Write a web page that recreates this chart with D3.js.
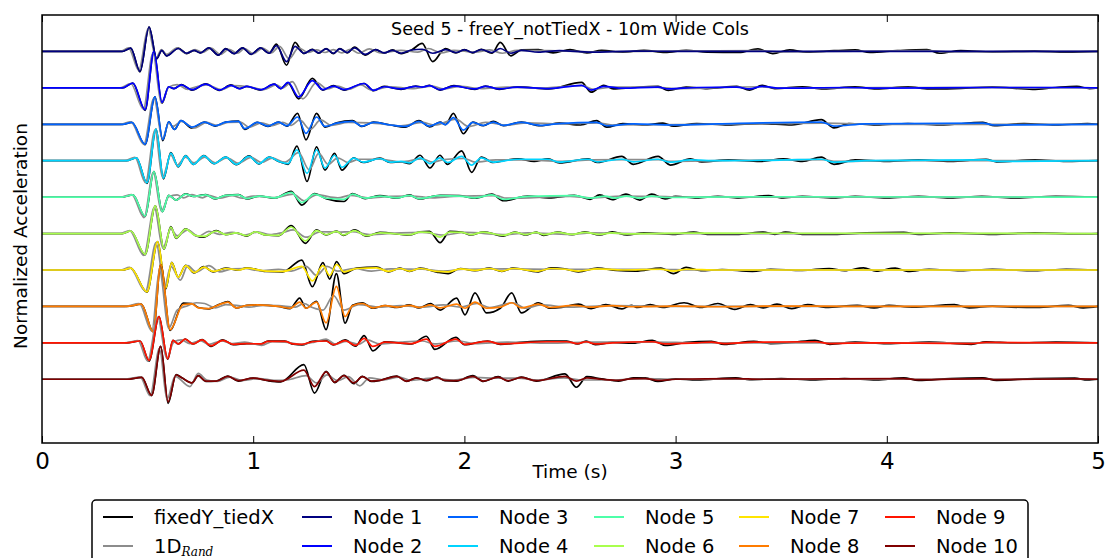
<!DOCTYPE html>
<html lang="en">
<head>
    <meta charset="UTF-8">
    <title>Seed 5 - freeY_notTiedX - 10m Wide Cols</title>
    <script src="https://d3js.org/d3.v7.min.js"></script>
    <style>
        body { margin: 0; background: #fff; }
        svg { display: block; font-family: "DejaVu Sans", sans-serif; }
    </style>
</head>
<body>
<svg id="chart" width="1105" height="558"></svg>
<script>
// Each trace: flat list [t, a, t, a, ...], t in seconds, a in units of trace spacing
const timeTicks = [0, 1, 2, 3, 4, 5];
const nodeNames = ['Node 1','Node 2','Node 3','Node 4','Node 5','Node 6','Node 7','Node 8','Node 9','Node 10'];
const nodeColors = ['#000080','#0000ff','#0063ff','#00d4ff','#4dffa9','#a9ff4d','#ffe500','#ff7c00','#ff1400','#800000'];

// node response (colored)
const node1 = [0,0, .38,0, .42,.09, .464,-.55, .507,.67, .543,-.2, .567,.03, .59,-.12, .645,.08, .685,-.05, .72,.03, .75,-.04, .79,.1, .835,-.1, .87,.07, .91,-.06, .95,.1, .99,-.08, 1.035,.1, 1.075,-.05, 1.11,.16, 1.158,-.28, 1.198,.14, 1.24,-.05, 1.28,.05, 1.31,-.04, 1.345,.07, 1.38,-.05, 1.41,.07, 1.445,-.03, 1.48,.1, 1.53,-.08, 1.58,.05, 1.62,-.04, 1.66,.03, 1.7,-.05, 1.75,.04, 1.8,.06, 1.85,-.05, 1.91,.05, 1.96,-.03, 2,.04, 2.04,-.03, 2.08,.05, 2.13,-.03, 2.17,.08, 2.22,-.05, 2.27,.03, 2.35,-.02, 2.45,.02, 2.6,-.02, 2.8,.01, 3,0, 5,0];
const node2 = [0,0, .38,0, .43,.13, .488,-.6, .53,1.0, .568,-.4, .6,.03, .625,-.02, .66,.08, .71,-.05, .775,.1, .84,-.06, .895,.07, .935,-.02, .97,.04, 1.035,-.05, 1.1,.1, 1.13,-.02, 1.165,.15, 1.215,-.25, 1.28,.2, 1.33,-.05, 1.38,.05, 1.43,-.05, 1.525,.12, 1.57,-.07, 1.62,.03, 1.7,-.03, 1.77,.04, 1.8,.02, 1.835,.06, 1.885,-.05, 1.95,.05, 2.05,-.03, 2.1,.04, 2.165,-.03, 2.25,.02, 2.4,-.02, 2.555,.07, 2.6,-.06, 2.66,.04, 2.75,-.01, 2.917,.02, 2.965,-.03, 3.1,.01, 3.29,.02, 3.35,-.03, 3.41,.04, 3.5,-.01, 3.8,.01, 4,-.01, 4.4,.01, 4.9,.01, 5,0];
const node3 = [0,0, .38,0, .425,.05, .488,-.55, .535,.75, .572,-.42, .6,.07, .627,-.14, .658,.1, .71,-.08, .77,.06, .82,-.04, .87,.06, .93,.08, .96,-.12, 1.02,.05, 1.07,-.05, 1.12,.06, 1.16,-.04, 1.21,.2, 1.25,-.25, 1.3,.2, 1.34,-.06, 1.395,.03, 1.47,.08, 1.515,-.05, 1.57,.05, 1.65,-.02, 1.72,-.06, 1.785,.08, 1.835,-.05, 1.885,.05, 1.91,-.01, 1.948,.18, 1.995,-.16, 2.04,.05, 2.09,-.03, 2.137,.06, 2.185,-.03, 2.27,.05, 2.36,-.03, 2.45,.02, 2.626,.05, 2.674,-.04, 2.8,.01, 2.99,-.02, 3.2,.01, 3.69,.06, 3.75,-.05, 3.9,.01, 4.455,.03, 4.51,-.02, 5,0];
const node4 = [0,0, .4,0, .447,.08, .497,-.61, .54,.87, .575,-.48, .61,.21, .645,-.16, .68,.13, .717,-.1, .766,.13, .815,-.08, .87,.1, .92,-.1, .98,.12, 1.027,-.08, 1.076,.1, 1.125,-.03, 1.165,-.08, 1.207,.3, 1.255,-.35, 1.3,.3, 1.34,-.2, 1.385,.15, 1.42,-.18, 1.476,.07, 1.52,-.04, 1.6,.06, 1.648,-.04, 1.7,-.02, 1.74,-.06, 1.79,.08, 1.837,-.08, 1.884,.08, 1.92,-.05, 1.987,.12, 2.034,-.12, 2.08,.08, 2.136,-.04, 2.255,.04, 2.396,.04, 2.45,-.04, 2.586,.04, 2.63,-.03, 2.745,.04, 2.8,-.03, 2.917,.04, 2.975,-.04, 3.07,.02, 3.2,0, 3.51,.02, 3.69,.04, 3.75,-.04, 3.9,0, 4.47,.02, 4.52,-.02, 5,0];
const node5 = [0,0, .38,0, .43,.06, .488,-.52, .53,.7, .57,-.4, .6,.05, .635,-.08, .68,.08, .717,.02, .745,.04, .775,.06, .82,-.04, .87,.05, .93,.06, .97,-.04, 1.03,.03, 1.1,-.02, 1.18,.13, 1.23,-.15, 1.29,.08, 1.345,-.03, 1.43,-.06, 1.47,.08, 1.53,-.03, 1.6,.03, 1.68,-.02, 1.74,.05, 1.785,-.04, 1.885,.04, 1.975,.03, 2.05,-.02, 2.13,.06, 2.185,-.06, 2.3,.02, 2.52,.04, 2.595,-.03, 2.666,.03, 2.713,-.03, 2.768,.03, 2.83,-.03, 2.887,.03, 2.95,-.01, 3.1,0, 3.44,.01, 5,0];
const node6 = [0,0, .38,0, .42,.07, .488,-.57, .537,.76, .578,-.42, .61,.18, .635,-.12, .68,.12, .725,-.05, .766,-.08, .825,.07, .87,-.03, .92,.02, .97,-.06, 1.01,.05, 1.06,-.04, 1.12,-.05, 1.18,.18, 1.247,-.2, 1.3,.08, 1.345,-.03, 1.394,.06, 1.427,-.04, 1.48,.08, 1.537,-.06, 1.6,.02, 1.74,-.03, 1.79,.04, 1.835,.03, 1.885,-.1, 1.93,.04, 1.987,.03, 2.03,-.03, 2.09,.04, 2.185,-.05, 2.24,.03, 2.29,-.03, 2.34,.03, 2.375,-.03, 2.44,.03, 2.51,-.02, 2.57,.03, 2.64,-.02, 2.7,.02, 2.77,-.01, 2.9,0, 3.085,.01, 5,0];
const node7 = [0,0, .38,0, .42,.05, .497,-.6, .548,.78, .586,-.5, .614,.2, .645,-.2, .68,.12, .72,-.07, .766,.08, .81,-.04, .87,.04, .93,0, .97,.05, 1.06,-.03, 1.14,-.04, 1.23,.1, 1.28,-.3, 1.33,.12, 1.362,-.15, 1.395,.15, 1.43,-.05, 1.49,.04, 1.585,.06, 1.64,-.04, 1.695,.04, 1.74,-.03, 1.79,.04, 1.87,-.04, 1.923,-.05, 1.98,.03, 2.05,-.01, 2.12,.04, 2.177,-.03, 2.23,.04, 2.35,-.03, 2.41,.04, 2.475,.02, 2.54,-.03, 2.63,.03, 2.75,0, 2.93,.02, 2.99,-.03, 3.05,.02, 3.2,0, 5,0];
const node8 = [0,0, .4,0, .47,.06, .527,-.7, .562,1.15, .607,-.64, .668,.05, .71,.07, .74,-.04, .79,-.06, .84,.05, .88,.12, .92,-.04, .97,.03, 1.02,.04, 1.07,.03, 1.12,0, 1.175,-.05, 1.22,.12, 1.25,-.05, 1.3,.12, 1.345,-.45, 1.394,.55, 1.435,-.28, 1.47,.02, 1.517,.08, 1.567,-.04, 1.625,.02, 1.68,-.02, 1.74,.03, 1.785,-.03, 1.84,.04, 1.885,-.04, 1.963,.06, 2.003,-.05, 2.05,.12, 2.105,-.05, 2.17,-.02, 2.224,.1, 2.27,-.04, 2.35,.06, 2.406,-.03, 2.52,.03, 2.6,-.02, 2.7,.02, 2.8,-.01, 3,.01, 3.2,-.01, 3.5,.01, 3.8,0, 5,0];
const node9 = [0,0, .4,0, .464,.05, .507,-.48, .554,.72, .595,-.44, .62,.07, .645,-.03, .678,.1, .715,-.03, .758,.08, .8,-.08, .856,.07, .905,-.04, .97,-.02, 1.036,-.03, 1.07,.04, 1.15,.04, 1.19,-.03, 1.23,-.04, 1.28,.03, 1.345,.05, 1.38,-.05, 1.435,.06, 1.485,-.07, 1.525,.12, 1.567,-.1, 1.624,.02, 1.75,-.02, 1.82,.1, 1.86,-.1, 1.96,.1, 2,-.04, 2.11,.04, 2.17,-.03, 2.39,.03, 2.485,.03, 2.536,-.02, 2.576,.03, 2.62,-.03, 2.7,0, 2.89,.03, 2.95,-.03, 3.1,0, 3.17,.02, 3.23,-.02, 3.37,.02, 3.66,.03, 3.73,-.02, 3.9,0, 4.4,-.02, 4.47,.01, 5,0];
const node10 = [0,0, .4,0, .472,.05, .519,-.44, .562,.9, .597,-.62, .635,.12, .66,.05, .71,-.1, .74,.1, .775,-.05, .825,-.05, .88,.08, .93,-.04, 1,.03, 1.07,-.03, 1.13,-.06, 1.24,.25, 1.29,-.2, 1.345,.2, 1.386,-.08, 1.43,.1, 1.477,-.1, 1.517,.07, 1.56,-.05, 1.6,-.03, 1.68,.08, 1.726,-.05, 1.773,.03, 1.82,-.03, 1.87,.05, 1.908,-.03, 1.963,-.04, 2.04,.08, 2.09,-.05, 2.16,.06, 2.207,-.04, 2.27,.05, 2.34,-.04, 2.476,.08, 2.53,-.05, 2.58,.04, 2.65,0, 2.73,-.03, 2.8,.02, 2.857,.02, 2.916,-.03, 3,0, 3.285,.02, 3.4,0, 4.08,.02, 4.15,-.01, 4.455,.02, 4.52,-.01, 4.89,.01, 5,0];

// fixedY_tiedX (black)
const fixed1 = [0,0, .38,0, .42,.09, .464,-.56, .507,.67, .543,-.2, .567,.03, .59,-.12, .645,.09, .685,-.06, .72,.03, .75,-.04, .79,.1, .835,-.1, .87,.08, .91,-.06, .95,.1, .99,-.08, 1.035,.1, 1.075,-.05, 1.11,.2, 1.158,-.38, 1.198,.25, 1.24,-.06, 1.28,.06, 1.31,-.05, 1.345,.08, 1.38,-.06, 1.41,.08, 1.445,-.04, 1.48,.12, 1.53,-.1, 1.58,.05, 1.62,-.05, 1.66,.04, 1.7,-.06, 1.75,.04, 1.8,.22, 1.85,-.28, 1.91,.08, 1.96,-.04, 2,.05, 2.04,-.04, 2.08,.06, 2.13,-.05, 2.17,.25, 2.22,-.12, 2.27,.04, 2.35,.05, 2.42,-.04, 2.5,.05, 2.58,-.04, 2.65,.03, 2.75,-.02, 2.85,.03, 2.95,-.03, 3.05,.03, 3.15,-.02, 3.3,-.03, 3.39,.07, 3.46,-.06, 3.54,.04, 3.62,-.02, 3.75,.02, 3.85,.04, 3.92,-.03, 4.05,.02, 4.19,.05, 4.25,-.05, 4.35,.02, 4.5,-.01, 4.7,.01, 4.85,-.02, 5,0];
const fixed2 = [0,0, .38,0, .43,.13, .488,-.62, .53,1.0, .568,-.42, .6,.03, .625,-.02, .66,.09, .71,-.06, .775,.11, .84,-.07, .895,.08, .935,-.02, .97,.04, 1.035,-.06, 1.1,.1, 1.13,-.02, 1.165,.13, 1.215,-.3, 1.28,.26, 1.33,-.06, 1.38,.06, 1.43,-.06, 1.525,.12, 1.57,-.08, 1.62,.04, 1.7,-.04, 1.77,.05, 1.8,.02, 1.835,.07, 1.885,-.06, 1.95,.06, 2.05,-.04, 2.1,.05, 2.165,-.04, 2.25,.03, 2.4,-.03, 2.555,.15, 2.6,-.12, 2.66,.07, 2.705,-.03, 2.8,.01, 2.917,.04, 2.965,-.07, 3.05,.02, 3.15,-.02, 3.29,.04, 3.35,-.06, 3.41,.07, 3.47,-.02, 3.6,.03, 3.7,-.03, 3.85,.03, 3.95,-.03, 4.1,.03, 4.2,-.03, 4.32,-.02, 4.5,.02, 4.69,-.04, 4.8,.01, 4.9,.04, 4.96,-.02, 5,0];
const fixed3 = [0,0, .38,0, .425,.05, .488,-.56, .535,.75, .572,-.45, .6,.07, .627,-.14, .658,.1, .71,-.1, .77,.06, .82,-.05, .87,.06, .93,.09, .96,-.14, 1.02,.05, 1.07,-.06, 1.12,.06, 1.16,-.05, 1.21,.3, 1.25,-.43, 1.3,.3, 1.34,-.08, 1.395,.04, 1.47,.1, 1.515,-.06, 1.57,.06, 1.65,-.02, 1.72,-.08, 1.785,.1, 1.835,-.07, 1.885,.06, 1.91,-.01, 1.948,.3, 1.995,-.26, 2.04,.06, 2.09,-.04, 2.137,.08, 2.185,-.04, 2.27,.06, 2.36,-.04, 2.45,.03, 2.55,-.02, 2.626,.1, 2.674,-.08, 2.75,.02, 2.85,-.02, 2.94,.03, 2.99,-.05, 3.1,.02, 3.25,-.02, 3.4,.02, 3.55,-.02, 3.69,.13, 3.75,-.1, 3.82,.02, 3.95,-.02, 4.1,.02, 4.25,-.02, 4.455,.05, 4.51,-.04, 4.65,.02, 4.8,-.02, 4.95,.02, 5,0];
const fixed4 = [0,0, .4,0, .447,.08, .497,-.62, .54,.87, .575,-.5, .61,.22, .645,-.17, .68,.14, .717,-.1, .766,.14, .815,-.08, .87,.1, .92,-.11, .98,.13, 1.027,-.09, 1.076,.1, 1.125,-.03, 1.165,-.1, 1.207,.4, 1.255,-.57, 1.3,.38, 1.34,-.26, 1.385,.2, 1.42,-.26, 1.476,.08, 1.52,-.05, 1.6,.07, 1.648,-.05, 1.7,-.03, 1.74,-.08, 1.79,.15, 1.837,-.2, 1.884,.15, 1.92,-.1, 1.987,.27, 2.034,-.32, 2.08,.1, 2.136,-.05, 2.2,.02, 2.255,.05, 2.33,-.02, 2.396,.05, 2.45,-.06, 2.586,.05, 2.63,-.05, 2.745,.12, 2.8,-.1, 2.917,.12, 2.975,-.12, 3.07,.05, 3.124,-.03, 3.25,.02, 3.4,-.02, 3.51,.05, 3.6,-.02, 3.69,.1, 3.75,-.1, 3.85,.02, 4,-.02, 4.15,.02, 4.3,-.02, 4.47,.04, 4.52,-.03, 4.7,.02, 4.85,-.02, 5,0];
const fixed5 = [0,0, .38,0, .43,.06, .488,-.53, .53,.7, .57,-.4, .6,.05, .635,-.08, .68,.09, .717,.02, .745,.04, .775,.07, .82,-.05, .87,.05, .93,.07, .97,-.05, 1.03,.03, 1.1,-.03, 1.18,.16, 1.23,-.22, 1.29,.1, 1.345,-.04, 1.43,-.12, 1.47,.1, 1.53,-.04, 1.6,.04, 1.68,-.03, 1.74,.06, 1.785,-.05, 1.885,.05, 1.975,.04, 2.05,-.03, 2.13,.08, 2.185,-.1, 2.3,.03, 2.4,-.02, 2.52,.05, 2.595,-.06, 2.64,.06, 2.7,-.07, 2.765,.08, 2.83,-.08, 2.887,.08, 2.95,-.05, 3,.02, 3.1,-.02, 3.2,.02, 3.3,-.02, 3.44,.04, 3.5,-.02, 3.6,.02, 3.75,-.02, 3.85,.02, 4,-.02, 4.15,.02, 4.3,-.02, 4.45,.02, 4.6,-.02, 4.8,.02, 5,0];
const fixed6 = [0,0, .38,0, .42,.07, .488,-.58, .537,.76, .578,-.43, .61,.19, .635,-.13, .68,.13, .725,-.05, .766,-.1, .825,.08, .87,-.03, .92,.02, .97,-.07, 1.01,.05, 1.06,-.04, 1.12,-.06, 1.18,.22, 1.247,-.27, 1.3,.1, 1.345,-.04, 1.394,.07, 1.427,-.05, 1.48,.1, 1.537,-.07, 1.6,.03, 1.74,-.04, 1.79,.05, 1.835,.06, 1.885,-.25, 1.93,.06, 1.987,.04, 2.03,-.04, 2.09,.05, 2.185,-.07, 2.24,.04, 2.29,-.04, 2.34,.04, 2.375,-.05, 2.44,.04, 2.51,-.03, 2.57,.05, 2.64,-.04, 2.7,.05, 2.77,-.04, 2.85,.02, 3,-.02, 3.085,.04, 3.15,-.02, 3.3,-.02, 3.414,.04, 3.47,-.02, 3.52,.04, 3.6,-.02, 3.75,-.02, 3.9,.02, 4.08,.03, 4.15,-.02, 4.3,.02, 4.5,-.02, 4.7,.02, 4.9,-.01, 5,0];
const fixed7 = [0,0, .38,0, .42,.05, .497,-.61, .548,.78, .586,-.52, .614,.21, .645,-.2, .68,.13, .72,-.08, .766,.09, .81,-.05, .87,.05, .93,0, .97,.06, 1.06,-.04, 1.14,-.05, 1.23,.27, 1.28,-.46, 1.33,.2, 1.362,-.25, 1.395,.23, 1.43,-.1, 1.49,.05, 1.585,.08, 1.64,-.05, 1.695,.05, 1.74,-.04, 1.79,.05, 1.87,-.06, 1.923,-.1, 1.98,.04, 2.05,-.02, 2.12,.05, 2.177,-.04, 2.23,.05, 2.35,-.05, 2.41,.06, 2.475,.03, 2.54,-.05, 2.63,.05, 2.72,-.01, 2.81,-.03, 2.93,.05, 2.99,-.1, 3.05,.07, 3.12,-.02, 3.22,.01, 3.364,-.04, 3.45,.02, 3.6,-.01, 3.727,.04, 3.8,-.02, 3.89,.06, 3.95,-.03, 4.04,.05, 4.1,-.04, 4.2,.02, 4.35,-.02, 4.5,.02, 4.7,-.02, 4.85,.02, 5,0];
const fixed8 = [0,0, .4,0, .47,.06, .527,-.7, .562,1.15, .607,-.66, .668,.09, .71,.08, .74,-.03, .79,-.07, .84,.06, .88,.13, .92,-.04, .97,.03, 1.02,.04, 1.07,.03, 1.12,0, 1.175,-.06, 1.22,.23, 1.25,-.05, 1.3,.14, 1.345,-.64, 1.394,.9, 1.435,-.46, 1.47,.03, 1.517,.1, 1.567,-.05, 1.625,.02, 1.68,-.03, 1.74,.04, 1.785,-.04, 1.84,.08, 1.885,-.1, 1.963,.23, 2.003,-.23, 2.05,.37, 2.105,-.18, 2.17,-.05, 2.224,.37, 2.27,-.18, 2.35,.1, 2.406,-.05, 2.46,-.03, 2.54,.06, 2.6,-.06, 2.67,.05, 2.746,-.07, 2.79,.03, 2.82,-.03, 2.88,.05, 2.94,-.03, 3.04,.1, 3.12,-.03, 3.2,.08, 3.28,-.08, 3.355,.05, 3.415,-.04, 3.48,.06, 3.55,-.06, 3.625,.05, 3.71,-.03, 3.86,.03, 3.94,-.04, 4.01,.03, 4.12,-.02, 4.32,.05, 4.39,-.04, 4.5,.01, 4.59,-.02, 4.71,-.03, 4.86,.03, 4.93,-.04, 5,0];
const fixed9 = [0,0, .4,0, .464,.05, .507,-.5, .554,.72, .595,-.45, .62,.07, .645,-.03, .678,.1, .715,-.03, .758,.09, .8,-.1, .856,.08, .905,-.05, .97,-.02, 1.036,-.03, 1.07,.05, 1.15,.05, 1.19,-.04, 1.23,-.06, 1.28,.04, 1.345,.06, 1.38,-.06, 1.435,.08, 1.485,-.09, 1.525,.2, 1.567,-.22, 1.624,.03, 1.75,-.03, 1.82,.18, 1.86,-.18, 1.96,.15, 2,-.05, 2.11,.05, 2.17,-.04, 2.28,.02, 2.39,.05, 2.485,.05, 2.536,-.03, 2.576,.05, 2.62,-.05, 2.7,.01, 2.8,-.01, 2.89,.07, 2.95,-.07, 3.05,.01, 3.17,.04, 3.23,-.04, 3.37,.04, 3.45,-.02, 3.55,.01, 3.66,.07, 3.73,-.04, 3.85,.02, 4,-.02, 4.2,.02, 4.4,-.04, 4.47,.03, 4.6,-.01, 4.8,.02, 5,0];
const fixed10 = [0,0, .4,0, .472,.05, .519,-.45, .562,.9, .597,-.66, .635,.13, .66,.05, .71,-.1, .74,.1, .775,-.06, .825,-.05, .88,.09, .93,-.05, 1,.03, 1.07,-.04, 1.13,-.07, 1.24,.4, 1.29,-.38, 1.345,.22, 1.386,-.09, 1.43,.11, 1.477,-.12, 1.517,.08, 1.56,-.06, 1.6,-.03, 1.68,.09, 1.726,-.06, 1.773,.04, 1.82,-.04, 1.87,.06, 1.908,-.04, 1.963,-.05, 2.04,.1, 2.09,-.06, 2.16,.07, 2.207,-.05, 2.27,.06, 2.34,-.05, 2.476,.15, 2.53,-.22, 2.58,.07, 2.65,.01, 2.73,-.05, 2.8,.04, 2.857,.04, 2.916,-.06, 3,.01, 3.1,-.02, 3.285,.04, 3.35,-.01, 3.5,.02, 3.65,-.02, 3.8,.02, 3.95,-.02, 4.08,.04, 4.15,-.03, 4.3,.02, 4.455,.04, 4.52,-.03, 4.7,.02, 4.89,.03, 4.95,-.02, 5,0];

// 1D_Rand (gray)
const rand1 = [0,0, .37,0, .41,.1, .458,-.52, .502,.62, .54,-.18, .565,.05, .59,-.08, .64,.1, .68,-.05, .725,.05, .76,-.03, .8,.09, .845,-.08, .885,.06, .925,-.05, .96,.08, 1,-.06, 1.045,.09, 1.085,-.04, 1.125,.14, 1.17,-.2, 1.215,.1, 1.26,-.03, 1.3,.04, 1.34,-.03, 1.38,.05, 1.42,-.04, 1.46,.06, 1.5,-.05, 1.55,.07, 1.6,-.04, 1.7,.03, 1.78,-.02, 1.83,.08, 1.89,-.04, 1.95,.03, 2.05,-.02, 2.12,.04, 2.18,-.05, 2.25,.03, 2.4,.02, 2.6,-.01, 3,.01, 3.4,.02, 3.5,-.01, 4.2,.02, 4.3,-.01, 5,0];
const rand2 = [0,0, .37,0, .42,.12, .48,-.58, .525,.95, .565,-.42, .6,.02, .64,.09, .69,-.04, .73,.03, .78,.08, .85,-.05, .9,.06, .98,.03, 1.05,-.05, 1.11,.08, 1.14,0, 1.185,.17, 1.235,-.3, 1.3,.15, 1.35,-.03, 1.4,.05, 1.45,-.04, 1.51,.08, 1.56,-.06, 1.65,.03, 1.75,-.02, 1.85,.05, 1.9,-.03, 1.98,.04, 2.08,-.02, 2.2,.02, 2.35,-.01, 2.56,.06, 2.61,-.04, 2.7,.02, 2.9,.02, 3,-.02, 3.4,.03, 3.5,-.01, 4,.01, 5,0];
const rand3 = [0,0, .37,0, .42,.07, .482,-.55, .53,.72, .57,-.4, .6,.03, .62,-.06, .66,.08, .72,-.1, .78,.05, .83,-.03, .88,.05, .94,.06, .98,-.08, 1.04,.04, 1.09,-.04, 1.14,.05, 1.18,-.03, 1.22,.12, 1.27,-.14, 1.32,.12, 1.37,-.03, 1.45,.05, 1.55,.04, 1.7,-.04, 1.8,.05, 1.86,-.02, 1.96,.14, 2.02,-.06, 2.1,.05, 2.2,-.02, 2.3,.04, 2.45,.01, 2.63,.04, 2.7,-.02, 3,-.01, 3.7,.03, 4,0, 5,0];
const rand4 = [0,0, .39,0, .44,.09, .49,-.6, .535,.84, .57,-.45, .61,.15, .64,-.12, .68,.1, .72,-.06, .77,.1, .82,-.06, .875,.08, .93,-.07, .99,.09, 1.04,-.05, 1.09,.07, 1.15,-.04, 1.215,.22, 1.265,-.25, 1.31,.2, 1.355,-.1, 1.4,.08, 1.45,-.05, 1.5,.04, 1.6,.04, 1.7,-.03, 1.8,.05, 1.85,-.04, 1.9,.03, 2,.06, 2.05,-.04, 2.15,.02, 2.3,.02, 2.45,-.02, 2.6,.02, 2.75,.03, 2.92,.03, 2.98,-.02, 3.2,0, 3.7,.03, 3.76,-.02, 4,0, 5,0];
const rand5 = [0,0, .37,0, .425,.07, .483,-.56, .527,.68, .565,-.38, .6,.01, .64,.06, .67,-.02, .71,.07, .76,-.02, .79,.05, .84,-.03, .9,.04, .95,-.03, 1,.03, 1.1,-.01, 1.19,.08, 1.24,-.1, 1.3,.06, 1.4,-.02, 1.46,.05, 1.55,-.02, 1.65,.02, 1.75,.03, 1.85,-.02, 1.95,.02, 2.15,.04, 2.2,-.03, 2.5,.02, 2.6,-.02, 2.75,.03, 2.9,.02, 3.1,0, 5,0];
const rand6 = [0,0, .37,0, .415,.08, .482,-.6, .532,.72, .572,-.4, .61,.12, .64,-.06, .69,.1, .74,-.08, .79,.06, .84,-.02, .9,.03, .96,-.04, 1.02,.04, 1.08,-.03, 1.14,.03, 1.19,.1, 1.25,-.1, 1.32,.05, 1.4,.04, 1.47,.05, 1.55,-.03, 1.7,.02, 1.8,.03, 1.9,-.04, 2,.03, 2.2,-.03, 2.3,.02, 2.5,-.02, 2.6,.02, 2.8,0, 5,0];
const rand7 = [0,0, .37,0, .415,.07, .49,-.58, .54,.75, .58,-.45, .61,.1, .655,-.28, .69,.12, .73,-.05, .79,.12, .84,-.05, .9,.03, .96,.04, 1.03,-.02, 1.12,.02, 1.18,-.03, 1.25,.1, 1.3,-.15, 1.35,.1, 1.4,-.03, 1.48,.04, 1.56,-.03, 1.65,.03, 1.8,.02, 1.9,-.03, 2,.02, 2.2,.03, 2.4,.02, 2.6,.02, 2.9,.02, 3.1,0, 5,0];
const rand8 = [0,0, .39,0, .46,.08, .52,-.68, .556,1.0, .6,-.6, .64,-.1, .69,.02, .73,.1, .77,.08, .82,-.04, .87,.05, .92,.03, .98,-.02, 1.05,.03, 1.12,.02, 1.2,-.02, 1.24,.08, 1.28,-.03, 1.33,-.1, 1.38,.3, 1.43,-.1, 1.5,.05, 1.6,-.02, 1.7,.02, 1.8,-.02, 1.9,.04, 1.98,-.02, 2.06,.08, 2.12,-.03, 2.23,.1, 2.29,-.05, 2.36,.04, 2.5,-.02, 2.7,.02, 3,0, 5,0];
const rand9 = [0,0, .39,0, .455,.06, .5,-.5, .548,.7, .59,-.42, .625,.03, .66,.08, .7,-.02, .75,.06, .79,-.04, .85,.05, .9,-.02, .96,.02, 1.04,-.07, 1.09,.03, 1.15,.02, 1.22,-.04, 1.29,.02, 1.345,.1, 1.39,-.04, 1.44,.04, 1.5,-.04, 1.54,.08, 1.6,-.03, 1.7,.02, 1.8,.05, 1.86,-.03, 1.97,.05, 2.05,-.02, 2.2,.02, 2.4,-.01, 2.6,.02, 2.9,.02, 3.1,0, 5,0];
const rand10 = [0,0, .39,0, .465,.06, .512,-.45, .556,.85, .592,-.55, .63,.08, .7,-.2, .74,.16, .78,-.02, .83,-.06, .89,.06, .95,-.03, 1.03,.02, 1.1,-.03, 1.16,-.02, 1.25,.1, 1.3,-.1, 1.35,.12, 1.4,-.04, 1.45,.07, 1.505,-.18, 1.55,.04, 1.62,-.02, 1.69,.06, 1.75,-.03, 1.85,.03, 1.95,-.02, 2.05,.05, 2.15,.03, 2.25,.03, 2.35,-.02, 2.47,.04, 2.55,-.02, 2.7,-.02, 2.85,.02, 3,0, 5,0];

const nodeSeries  = [node1, node2, node3, node4, node5, node6, node7, node8, node9, node10];
const fixedSeries = [fixed1, fixed2, fixed3, fixed4, fixed5, fixed6, fixed7, fixed8, fixed9, fixed10];
const randSeries  = [rand1, rand2, rand3, rand4, rand5, rand6, rand7, rand8, rand9, rand10];

function toPairs(a) {
    const p = [];
    for (let i = 0; i < a.length; i += 2) p.push([a[i], a[i + 1]]);
    return p;
}

const svg = d3.select('#chart');
const plotLeft = 42, plotRight = 1098, plotTop = 15, plotBottom = 443;

const x = d3.scaleLinear().domain([0, 5]).range([plotLeft, plotRight]);
// trace k (0 = Node 1) sits on baseline 9 - k
const y = d3.scaleLinear().domain([-1.75, 10]).range([plotBottom, plotTop]);

svg.append('defs').append('clipPath').attr('id', 'plot-clip')
    .append('rect')
    .attr('x', plotLeft).attr('y', plotTop)
    .attr('width', plotRight - plotLeft).attr('height', plotBottom - plotTop);

const traces = svg.append('g').attr('clip-path', 'url(#plot-clip)');

function drawTrace(values, offset, color) {
    const line = d3.line()
        .x(d => x(d[0]))
        .y(d => y(d[1] + offset))
        .curve(d3.curveMonotoneX);
    traces.append('path')
        .attr('d', line(toPairs(values)))
        .attr('fill', 'none')
        .attr('stroke', color)
        .attr('stroke-width', 1.7)
        .attr('stroke-linejoin', 'round');
}

nodeSeries.forEach((vals, k) => {
    const off = 9 - k;
    drawTrace(fixedSeries[k], off, '#000');
    drawTrace(randSeries[k], off, '#8c8c8c');
    drawTrace(vals, off, nodeColors[k]);
});

// axes
const xAxis = d3.axisBottom(x)
    .tickValues(timeTicks)
    .tickFormat(d3.format('d'))
    .tickSizeInner(-7)
    .tickSizeOuter(0)
    .tickPadding(10);

const gx = svg.append('g').attr('transform', `translate(0,${plotBottom})`).call(xAxis);
gx.select('.domain').remove();
gx.selectAll('text')
    .attr('font-family', '"DejaVu Sans", sans-serif')
    .attr('font-size', 23)
    .attr('fill', '#000');
gx.selectAll('line').attr('stroke', '#000').attr('stroke-width', 1);

const gxTop = svg.append('g').attr('transform', `translate(0,${plotTop})`)
    .call(d3.axisTop(x).tickValues(timeTicks).tickSizeInner(-7).tickSizeOuter(0).tickFormat(''));
gxTop.select('.domain').remove();
gxTop.selectAll('line').attr('stroke', '#000').attr('stroke-width', 1);

// frame
svg.append('rect')
    .attr('x', plotLeft).attr('y', plotTop)
    .attr('width', plotRight - plotLeft).attr('height', plotBottom - plotTop)
    .attr('fill', 'none')
    .attr('stroke', '#000')
    .attr('stroke-width', 1.5);

// titles
svg.append('text')
    .attr('x', (plotLeft + plotRight) / 2).attr('y', 35)
    .attr('text-anchor', 'middle')
    .attr('font-size', 17.5)
    .text('Seed 5 - freeY_notTiedX - 10m Wide Cols');

svg.append('text')
    .attr('x', (plotLeft + plotRight) / 2).attr('y', 478)
    .attr('text-anchor', 'middle')
    .attr('font-size', 18.5)
    .text('Time (s)');

svg.append('text')
    .attr('transform', 'translate(27,236) rotate(-90)')
    .attr('text-anchor', 'middle')
    .attr('font-size', 18.5)
    .text('Normalized Acceleration');

// legend
const legendItems = [
    { label: 'fixedY_tiedX', color: '#000' },
    { label: '1D', sub: 'Rand', color: '#8c8c8c' }
].concat(nodeNames.map((n, i) => ({ label: n, color: nodeColors[i] })));

const colX = [103, 302, 448, 594, 739, 885];
const rowY = [517, 546];

const legend = svg.append('g');
legend.append('rect')
    .attr('x', 92).attr('y', 500)
    .attr('width', 936).attr('height', 80)
    .attr('rx', 4)
    .attr('fill', '#fff')
    .attr('stroke', '#000')
    .attr('stroke-width', 1.5);

legendItems.forEach((item, i) => {
    const cx = colX[Math.floor(i / 2)];
    const cy = rowY[i % 2];
    legend.append('line')
        .attr('x1', cx).attr('x2', cx + 30)
        .attr('y1', cy).attr('y2', cy)
        .attr('stroke', item.color)
        .attr('stroke-width', 2);
    const t = legend.append('text')
        .attr('x', cx + 51).attr('y', cy + 7)
        .attr('font-size', 19.5)
        .text(item.label);
    if (item.sub) {
        t.append('tspan')
            .attr('dy', 3)
            .attr('font-family', '"DejaVu Serif", serif')
            .attr('font-style', 'italic')
            .attr('font-size', 12)
            .text(item.sub);
    }
});
</script>
</body>
</html>
